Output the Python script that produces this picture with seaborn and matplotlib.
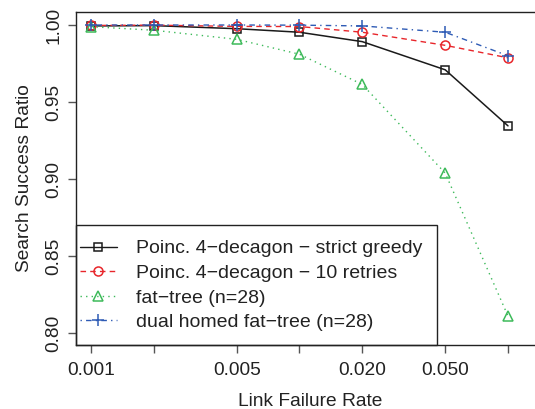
import numpy as np
import pandas as pd
import matplotlib
matplotlib.use("Agg")
import matplotlib.pyplot as plt
import seaborn as sns
from matplotlib.lines import Line2D
from matplotlib.patches import Rectangle

rates = [0.001, 0.002, 0.005, 0.01, 0.02, 0.05, 0.1]
strict_greedy = [0.9994, 0.9996, 0.9976, 0.9953, 0.9892, 0.9709, 0.9345]
retries10 = [0.9997, 0.9999, 0.9991, 0.9990, 0.9953, 0.9868, 0.9787]
fat_tree = [0.9989, 0.9966, 0.9907, 0.9810, 0.9614, 0.9038, 0.8110]
dual_homed = [1.0000, 1.0000, 1.0000, 0.9999, 0.9994, 0.9953, 0.9800]
labels = ["Poinc. 4\u2212decagon \u2212 strict greedy",
          "Poinc. 4\u2212decagon \u2212 10 retries",
          "fat\u2212tree (n=28)",
          "dual homed fat\u2212tree (n=28)"]
xtick_labels = ["0.001", "", "0.005", "", "0.020", "0.050", ""]
yticks = [0.80, 0.85, 0.90, 0.95, 1.00]

sns.set_theme(style="white")
plt.rcParams["font.family"] = ["Liberation Sans", "DejaVu Sans"]

series = [strict_greedy, retries10, fat_tree, dual_homed]
df = pd.concat([pd.DataFrame({"rate": rates, "ratio": s, "series": lab})
                for s, lab in zip(series, labels)], ignore_index=True)

colors = ["#1a1a1a", "#E8262B", "#3DBA5A", "#2E5BB5"]
styles = ["-", (0, (4, 3)), (0, (1, 3)), (0, (1, 3, 4, 3))]
markers = ["s", "o", "^", "+"]
msizes = [6, 6.5, 7, 9]

FS = 13.8
W, H = 535, 409
fig = plt.figure(figsize=(W / 100, H / 100), dpi=100)
left, right, top, bottom = 76, 545, 12, 345
ax = fig.add_axes([left / W, 1 - bottom / H, (right - left) / W, (bottom - top) / H])

for lab, c, ls, m, ms in zip(labels, colors, styles, markers, msizes):
    sub = df[df["series"] == lab]
    sns.lineplot(data=sub, x="rate", y="ratio", ax=ax, color=c, linestyle=ls,
                 linewidth=1.1 if lab == labels[0] else 1.0,
                 marker=m, markersize=ms,
                 markerfacecolor="none", markeredgecolor=c, markeredgewidth=1.1,
                 label=lab, legend=False)

ax.set_xscale("log")
pxdec = (508 - 91) / 2.0
ax.set_xlim(10 ** (-3 - (91 - left) / pxdec), 10 ** (-1 + (right - 508) / pxdec))
ax.set_ylim(0.8 - 12 / 1540, 1.0 + 13 / 1540)
ax.set_xticks(rates)
ax.set_xticklabels(xtick_labels)
ax.xaxis.set_minor_locator(matplotlib.ticker.NullLocator())
ax.set_yticks(yticks)
ax.set_yticklabels([f"{v:.2f}" for v in yticks], rotation=90, va="center")
ax.tick_params(axis="both", which="major", direction="out", length=6, width=1,
               color="#555555", labelsize=FS, labelcolor="#222222", pad=4,
               bottom=True, left=True)
ax.tick_params(axis="x", pad=6)
for s in ax.spines.values():
    s.set_color("#222222")
    s.set_linewidth(1.0)

ax.set_xlabel("Link Failure Rate", fontsize=FS, color="#222222", labelpad=10)
ax.set_ylabel("Search Success Ratio", fontsize=FS, color="#222222", labelpad=9)

handles = [Line2D([], [], color=c, linestyle=ls, linewidth=1.0, marker=m,
                  markersize=ms, markerfacecolor="none",
                  markeredgecolor=c, markeredgewidth=1.1)
           for c, ls, m, ms in zip(colors, styles, markers, msizes)]
leg = fig.legend(handles, labels, loc="center left",
                 bbox_to_anchor=(80 / W, 1 - 285.5 / H),
                 borderaxespad=0, borderpad=0, fontsize=14, frameon=False,
                 handlelength=1.9, handletextpad=1.0, labelspacing=0.36,
                 labelcolor="#222222")
fig.add_artist(Rectangle((left / W, 1 - bottom / H), (437 - left) / W,
                         (bottom - 225) / H, transform=fig.transFigure,
                         fill=False, edgecolor="#222222", linewidth=1.0))

fig.savefig("out.png", dpi=100)
